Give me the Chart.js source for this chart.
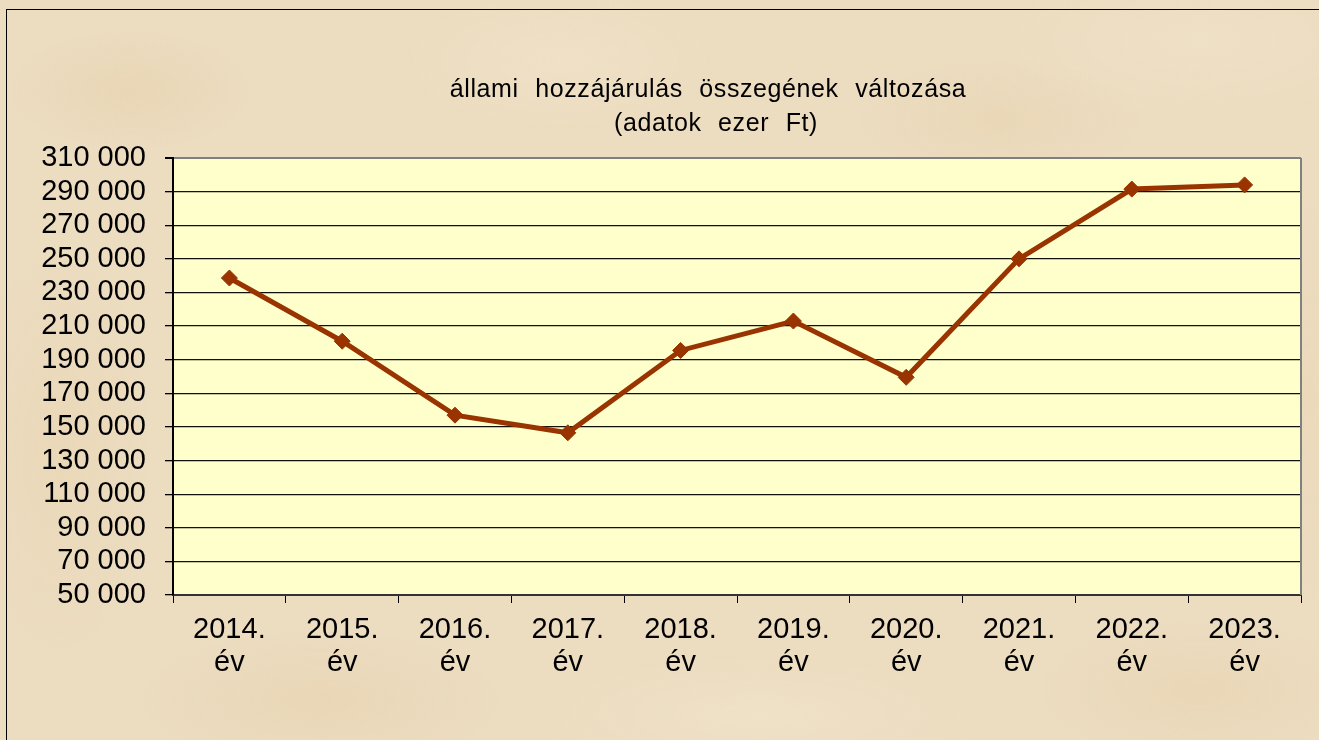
<!DOCTYPE html>
<html>
<head>
<meta charset="utf-8">
<script src="https://cdn.jsdelivr.net/npm/chart.js@4/dist/chart.umd.min.js"></script>
<style>
  html, body { margin: 0; padding: 0; overflow: hidden; }
  body {
    width: 1319px; height: 740px;
    background-color: #ecdcc0;
    background-image:
      radial-gradient(ellipse 120px 60px at 130px 90px, rgba(222,196,150,0.25), transparent),
      radial-gradient(ellipse 160px 70px at 560px 60px, rgba(248,236,212,0.3), transparent),
      radial-gradient(ellipse 140px 60px at 1000px 120px, rgba(226,202,158,0.25), transparent),
      radial-gradient(ellipse 200px 80px at 1200px 40px, rgba(246,234,210,0.3), transparent),
      radial-gradient(ellipse 180px 70px at 320px 700px, rgba(224,198,154,0.25), transparent),
      radial-gradient(ellipse 220px 60px at 760px 715px, rgba(248,238,216,0.3), transparent),
      radial-gradient(ellipse 160px 70px at 1200px 690px, rgba(226,200,156,0.25), transparent),
      radial-gradient(ellipse 90px 200px at 60px 450px, rgba(228,204,160,0.25), transparent),
      radial-gradient(ellipse 60px 200px at 1310px 400px, rgba(232,210,168,0.25), transparent);
  }
  #frame {
    position: absolute; left: 6px; top: 9px; width: 1400px; height: 800px;
    border-left: 1px solid #000; border-top: 1px solid #000;
  }
  #wrap { position: absolute; left: 0; top: 0; width: 1319px; height: 740px; }
</style>
</head>
<body>
<div id="frame"></div>
<div id="wrap"><canvas id="myChart" width="1319" height="740"></canvas></div>
<script>
// adatok
const evek = ['2014.', '2015.', '2016.', '2017.', '2018.', '2019.', '2020.', '2021.', '2022.', '2023.'];
const hozzajarulas = [238600, 201000, 157000, 146500, 195500, 213000, 179500, 250000, 291500, 294000];
const cim = ['állami hozzájárulás összegének változása', '(adatok ezer Ft)'];
const yMin = 50000, yMax = 310000, yStep = 20000;

const labels = evek.map(e => [e, 'év']);
const fmt = v => String(v).replace(/\B(?=(\d{3})+(?!\d))/g, ' ');

const background = {
    id: 'background',
    beforeDraw(chart) {
        const { ctx, chartArea: a } = chart;
        ctx.save();
        ctx.fillStyle = '#ffffcc';
        ctx.fillRect(a.left, a.top, a.right - a.left, a.bottom - a.top);
        ctx.restore();
    },
    afterDraw(chart) {
        const { ctx, chartArea: a } = chart;
        ctx.save();
        // right border
        ctx.strokeStyle = '#808080';
        ctx.lineWidth = 2;
        ctx.beginPath();
        ctx.moveTo(a.right, a.top);
        ctx.lineTo(a.right, a.bottom);
        ctx.stroke();
        // title
        ctx.fillStyle = '#000';
        ctx.font = '25px "Liberation Sans", Arial, sans-serif';
        ctx.textAlign = 'center';
        ctx.textBaseline = 'alphabetic';
        ctx.letterSpacing = '0.6px';
        ctx.wordSpacing = '9px';
        ctx.fillText(cim[0], 708, 97);
        ctx.fillText(cim[1], 716, 131);
        ctx.restore();
    }
};

const ctx = document.getElementById('myChart').getContext('2d');
const myChart = new Chart(ctx, {
    type: 'line',
    data: {
        labels: labels,
        datasets: [{
            label: 'állami hozzájárulás',
            data: hozzajarulas,
            borderColor: '#993300',
            backgroundColor: '#993300',
            borderWidth: 5,
            pointStyle: 'rectRot',
            pointRadius: 8,
            pointHoverRadius: 8,
            pointBorderWidth: 1,
            tension: 0
        }]
    },
    options: {
        responsive: false,
        animation: false,
        devicePixelRatio: 1,
        layout: {
            padding: { left: 0, right: 18, top: 158, bottom: 0 }
        },
        plugins: {
            legend: { display: false },
            tooltip: { enabled: false },
            title: { display: false }
        },
        scales: {
            x: {
                offset: true,
                afterFit: s => { s.height = 145; },
                grid: {
                    offset: true,
                    drawOnChartArea: false,
                    drawTicks: true,
                    tickLength: 8,
                    color: '#000',
                    lineWidth: 1
                },
                border: { color: '#333', width: 2 },
                ticks: {
                    color: '#000',
                    padding: 10,
                    maxRotation: 0,
                    autoSkip: false,
                    font: { family: '"Liberation Sans", Arial, sans-serif', size: 29, lineHeight: 1.15 }
                }
            },
            y: {
                min: yMin,
                max: yMax,
                afterFit: s => { s.width = 173; },
                grid: {
                    color: c => (c.tick && c.tick.value === yMax) ? '#808080' : '#111',
                    lineWidth: c => (c.tick && c.tick.value === yMax) ? 2 : 1.3,
                    tickColor: '#000',
                    tickLength: 8,
                    drawTicks: true
                },
                border: { color: '#000', width: 2 },
                ticks: {
                    stepSize: yStep,
                    autoSkip: false,
                    color: '#000',
                    padding: 19,
                    callback: v => fmt(v),
                    font: { family: '"Liberation Sans", Arial, sans-serif', size: 29 }
                }
            }
        }
    },
    plugins: [background]
});
</script>
</body>
</html>
